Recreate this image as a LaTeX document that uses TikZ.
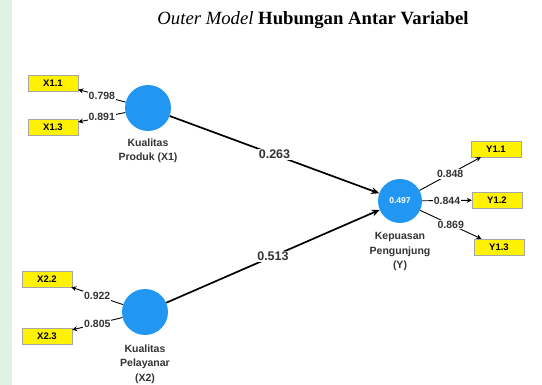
\documentclass[tikz,border=0pt]{standalone}
\usepackage{fontspec}
\setmainfont{Liberation Serif}
\setsansfont{Liberation Sans}
\usetikzlibrary{arrows.meta,positioning}

\definecolor{lvblue}{RGB}{33,150,243}
\definecolor{indyellow}{RGB}{255,242,0}
\definecolor{stripgreen}{RGB}{224,242,230}

\tikzset{
  latent/.style={circle, fill=lvblue, minimum size=46pt, inner sep=0pt, text=white,
    font=\sffamily\bfseries\fontsize{8.5}{9}\selectfont},
  indicator/.style={draw=black!35, fill=indyellow, minimum width=50pt, minimum height=16pt,
    inner sep=0pt, font=\sffamily\bfseries\fontsize{9.5}{10}\selectfont},
  lvname/.style={align=center, inner sep=0pt, font=\sffamily\bfseries\fontsize{10.5}{14.5}\selectfont, text=black!80},
  path coef/.style={fill=white, inner sep=1pt, font=\sffamily\bfseries\fontsize{12.5}{13}\selectfont, text=black!80},
  load coef/.style={fill=white, inner sep=1pt, font=\sffamily\bfseries\fontsize{10.5}{11}\selectfont, text=black!80},
  structural/.style={line width=1.7pt, -{Stealth[length=8pt,width=7pt]}},
  loading/.style={line width=0.9pt, -{Stealth[length=5pt,width=5pt]}}
}

\begin{document}
\begin{tikzpicture}[x=1pt, y=-1pt]
      % Canvas:
      \useasboundingbox (0,0) rectangle (542,385);
      \fill[white] (0,0) rectangle (542,385);
      \fill[stripgreen] (0,0) rectangle (12,385);
      \node[font=\fontsize{18.7}{20}\selectfont] (title) at (313,20)
        {\textit{Outer Model} \textbf{Hubungan Antar Variabel}};
      % Latent variables:
      \node[latent] (X1) at (148,108) {};
      \node[latent] (X2) at (145,312) {};
      \node[latent, minimum size=44pt] (Y) at (400,201) {0.497};
      \node[lvname, below=7pt of X1] (X1name) {Kualitas\\Produk (X1)};
      \node[lvname, below=9pt of X2] (X2name) {Kualitas\\Pelayanar\\(X2)};
      \node[lvname, below=9pt of Y] (Yname) {Kepuasan\\Pengunjung\\(Y)};
      % Indicators:
      \node[indicator] (X11) at (53,83) {X1.1};
      \node[indicator] (X13) at (53,127) {X1.3};
      \node[indicator] (X22) at (47,279) {X2.2};
      \node[indicator] (X23) at (47,336) {X2.3};
      \node[indicator] (Y11) at (496,149) {Y1.1};
      \node[indicator] (Y12) at (497,200) {Y1.2};
      \node[indicator] (Y13) at (499,247) {Y1.3};
      % Inner model:
      \draw[structural] (X1) -- node[path coef] {0.263} (Y);
      \draw[structural] (X2) -- node[path coef] {0.513} (Y);
      % Outer loadings:
      \draw[loading] (X1) -- node[load coef] {0.798} (X11);
      \draw[loading] (X1) -- node[load coef] {0.891} (X13);
      \draw[loading] (X2) -- node[load coef] {0.922} (X22);
      \draw[loading] (X2) -- node[load coef] {0.805} (X23);
      \draw[loading] (Y) -- node[load coef] {0.848} (Y11);
      \draw[loading] (Y) -- node[load coef] {0.844} (Y12);
      \draw[loading] (Y) -- node[load coef] {0.869} (Y13);
\end{tikzpicture}
\end{document}
